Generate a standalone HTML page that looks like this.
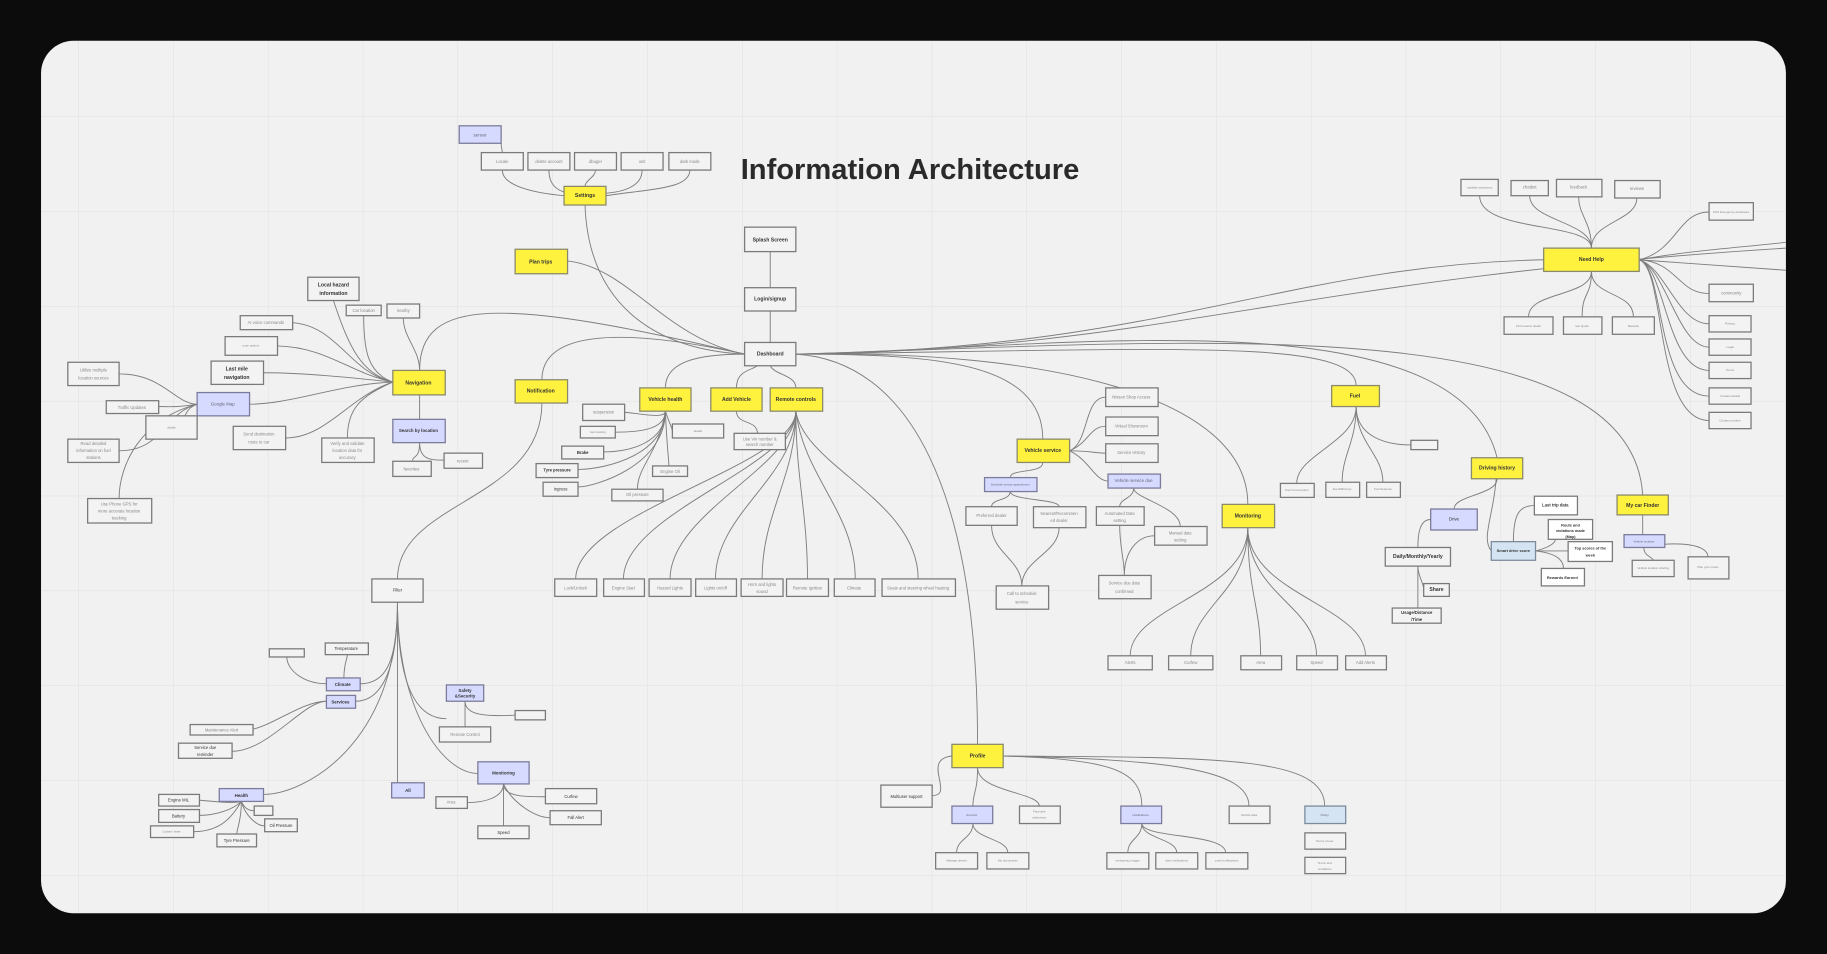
<!DOCTYPE html>
<html><head><meta charset="utf-8"><style>
html,body{margin:0;padding:0;background:#0c0c0c;width:1827px;height:954px;overflow:hidden}
svg{display:block}
text{font-family:"Liberation Sans",sans-serif;text-anchor:middle;dominant-baseline:middle}
.b rect{fill:#f3f3f3;stroke:#7a7a7a;stroke-width:1.1}
.y rect{fill:#fff23f;stroke:#8a8a6a;stroke-width:1.1}
.l rect{fill:#d6daff;stroke:#7b7b9b;stroke-width:1.1}
.c rect{fill:#d4e4f2;stroke:#7b8b9b;stroke-width:1.1}
.b text{font-size:3.6px;fill:#888}
.y text,.k text{font-size:4.4px;fill:#333;font-weight:bold}
.l text,.c text{font-size:3.8px;fill:#667}
.e path{fill:none;stroke:#7e7e7e;stroke-width:0.8}
</style></head><body>
<svg width="1827" height="954" viewBox="0 0 1568 819" xmlns="http://www.w3.org/2000/svg">
<defs><pattern id="g" x="-14" y="19" width="81.4" height="81.4" patternUnits="userSpaceOnUse"><path d="M81.4 0V81.4M0 81.4H81.4" fill="none" stroke="#dedede" stroke-width="0.8"/></pattern>
<clipPath id="cp"><rect x="35" y="35" width="1498" height="749" rx="28"/></clipPath></defs>
<rect x="0" y="0" width="1568" height="819" rx="40" fill="#0c0c0c"/>
<rect x="35" y="35" width="1498" height="749" rx="28" fill="#f1f1f1"/>
<g clip-path="url(#cp)">
<rect x="35" y="35" width="1498" height="749" fill="url(#g)"/>
<text x="781" y="147" style="font-size:25px;font-weight:bold;fill:#2a2a2a">Information Architecture</text>
<g class="e">
<path d="M639 304C560 300 505 260 502 176"/><path d="M487 224C540 230 570 290 639 304"/>
<path d="M360 318C360 255 430 255 639 304"/><path d="M465 326C465 285 530 280 639 304"/>
<path d="M571 333C571 310 600 304 639 304"/><path d="M632 333C632 318 645 318 650 314"/>
<path d="M683 333C683 322 665 322 661 314"/>
<path d="M661 215V247M661 267V294"/>
<path d="M683 304C1000 300 1100 228 1325 223"/><path d="M683 304C1000 300 1100 240 1533 213"/>
<path d="M683 304C900 300 1250 250 1285 393"/><path d="M683 304C1000 295 1400 260 1410 425"/>
<path d="M683 304C1000 300 1164 290 1164 331"/><path d="M683 304C900 300 1071 340 1071 433"/>
<path d="M683 304C800 304 895 310 895 377"/><path d="M683 304C780 310 839 420 839 639"/>
<path d="M1407 223C1450 215 1500 212 1533 208"/><path d="M1407 223C1450 226 1500 230 1533 232"/>
<path d="M430 123C430 128 431 128 431 131"/>
<path d="M431 146C431 160 460 166 484 168"/><path d="M471 146C471 160 480 165 490 166"/><path d="M511 146C511 152 502 155 502 160"/><path d="M551 146C551 160 535 165 518 166"/><path d="M592 146C592 162 560 162 520 168"/>
<path d="M337 328C310 320 300 300 286 258"/><path d="M337 328C315 320 312 300 312 271"/><path d="M337 328C300 320 290 280 251 277"/><path d="M337 328C300 320 280 298 238 297"/><path d="M337 328C300 324 260 320 226 320"/><path d="M337 328C290 330 250 347 214 347"/><path d="M337 328C300 340 280 376 245 376"/><path d="M337 328C310 340 298 350 298 376"/><path d="M346 273C346 290 360 300 360 318"/>
<path d="M360 339V360"/><path d="M360 380C360 395 354 390 354 396M360 380C360 395 370 395 381 395"/>
<path d="M169 347C150 347 140 321 102 321"/><path d="M169 347C150 350 145 349 136 349"/><path d="M169 347C160 350 155 360 160 367"/><path d="M169 347C140 355 140 387 102 387"/><path d="M169 347C120 360 102 400 102 428"/>
<path d="M465 346C465 430 341 430 341 497"/>
<path d="M571 353C571 360 550 355 536 354"/><path d="M571 353C571 370 545 371 528 371"/><path d="M571 353C575 365 577 368 577 370"/><path d="M571 353C571 380 540 388 518 388"/><path d="M571 353C571 390 520 403 496 403"/><path d="M571 353C571 400 510 418 496 418"/><path d="M571 353C572 380 574 395 574 400"/><path d="M571 353C565 390 547 400 547 420"/>
<path d="M632 353C632 365 650 360 650 372"/>
<path d="M683 353C683 400 494 440 494 497"/><path d="M683 353C683 400 535 440 535 497"/><path d="M683 353C683 400 575 440 575 497"/><path d="M683 353C683 410 614 440 614 497"/><path d="M683 353C683 410 654 440 654 497"/><path d="M683 353C683 410 693 440 693 497"/><path d="M683 353C690 410 734 440 734 497"/><path d="M683 353C690 400 788 430 788 497"/>
<path d="M918 387C935 380 930 341 949 341"/><path d="M918 387C935 380 935 366 949 366"/><path d="M918 387C935 387 940 389 949 389"/><path d="M918 387C935 395 940 413 951 413"/>
<path d="M895 397C895 407 867 402 867 410"/>
<path d="M867 422C867 430 851 428 851 435M867 422C867 430 909 428 909 435"/>
<path d="M851 451C851 475 877 480 877 503M909 453C909 475 877 480 877 503"/>
<path d="M973 419C973 428 961 428 961 435M973 419C973 428 1013 435 1013 452"/>
<path d="M961 451C961 470 965 480 965 494M991 460C975 460 965 475 965 494"/>
<path d="M1071 453C1071 510 970 520 970 563"/><path d="M1071 453C1071 510 1022 520 1022 563"/><path d="M1071 453C1071 510 1082 520 1082 563"/><path d="M1071 453C1071 510 1130 520 1130 563"/><path d="M1071 453C1071 510 1172 520 1172 563"/>
<path d="M1164 349C1164 380 1113 390 1113 415"/><path d="M1164 349C1164 380 1152 390 1152 414"/><path d="M1164 349C1164 380 1187 390 1187 414"/><path d="M1164 349C1164 375 1190 382 1211 382"/>
<path d="M1285 411C1285 425 1248 425 1248 437"/><path d="M1228 446C1218 446 1217 460 1217 470"/>
<path d="M1217 486C1217 495 1222 500 1222 506"/><path d="M1217 486V522"/>
<path d="M1285 393C1285 440 1270 460 1280 473"/>
<path d="M1299 465C1299 440 1305 434 1317 434"/><path d="M1318 473C1330 470 1335 466 1335 463"/><path d="M1318 473C1330 473 1340 473 1346 473"/><path d="M1318 473C1335 475 1342 480 1342 488"/>
<path d="M1410 442V459"/><path d="M1411 470C1411 478 1419 478 1419 481M1411 470C1430 465 1466 465 1466 478"/>
<path d="M1366 213C1366 190 1270 200 1270 168"/><path d="M1366 213C1366 190 1313 190 1313 168"/><path d="M1366 213C1366 190 1355 185 1355 169"/><path d="M1366 213C1366 190 1405 190 1405 170"/>
<path d="M1407 223C1440 215 1440 182 1467 182"/><path d="M1407 223C1440 225 1440 252 1467 252"/><path d="M1407 223C1430 230 1440 278 1467 278"/><path d="M1407 223C1430 230 1440 298 1467 298"/><path d="M1407 223C1430 230 1430 318 1467 318"/><path d="M1407 223C1430 230 1420 340 1467 340"/><path d="M1407 223C1430 230 1420 361 1467 361"/>
<path d="M1366 233C1366 255 1312 250 1312 272"/><path d="M1366 233C1366 255 1358 250 1358 272"/><path d="M1366 233C1366 255 1402 250 1402 272"/>
<path d="M341 517C341 570 330 587 309 587"/><path d="M341 517C341 580 325 602 305 602"/><path d="M341 517C341 570 350 617 383 617"/><path d="M341 517V672"/><path d="M341 517C341 610 380 664 410 664"/><path d="M341 517C341 640 260 682 226 682"/>
<path d="M280 587C260 587 246 575 246 564"/><path d="M295 582C295 570 298 565 298 562"/>
<path d="M280 602C260 602 235 622 217 626"/><path d="M280 602C260 602 230 645 199 645"/>
<path d="M399 602V624"/><path d="M399 602C399 615 420 615 442 614"/>
<path d="M432 673C432 685 415 689 401 689"/><path d="M432 673C432 684 450 684 468 684"/><path d="M432 673V709"/><path d="M432 673C440 690 460 702 472 702"/>
<path d="M207 688C200 690 185 688 171 687"/><path d="M207 688C200 695 185 700 171 700"/><path d="M207 688C200 700 190 714 166 714"/><path d="M207 688C210 695 215 696 218 696"/><path d="M207 688C210 700 220 709 227 709"/><path d="M207 688C207 705 203 712 203 716"/>
<path d="M817 649C790 652 820 683 800 683"/>
<path d="M839 659C839 680 835 680 835 692"/><path d="M839 659C839 680 892 680 892 692"/><path d="M861 649C950 652 980 660 980 692"/><path d="M861 649C1000 652 1072 660 1072 692"/><path d="M861 649C1050 650 1137 650 1137 692"/>
<path d="M835 707C835 720 821 720 821 732"/><path d="M835 707C835 720 865 720 865 732"/>
<path d="M980 707C980 720 968 720 968 732"/><path d="M980 707C980 720 1010 720 1010 732"/><path d="M980 707C980 720 1052 715 1052 732"/>
</g>
<g class="l"><rect x="394" y="108" width="36" height="15"/><text x="412" y="116">sensor</text></g>
<g class="b"><rect x="413" y="131" width="36" height="15"/><text x="431" y="139">Locale</text>
<rect x="453" y="131" width="36" height="15"/><text x="471" y="139">delete account</text>
<rect x="493" y="131" width="36" height="15"/><text x="511" y="139">dbuger</text>
<rect x="533" y="131" width="36" height="15"/><text x="551" y="139">unit</text>
<rect x="574" y="131" width="36" height="15"/><text x="592" y="139">dark mode</text></g>
<g class="y"><rect x="484" y="160" width="36" height="16"/><text x="502" y="168">Settings</text>
<rect x="442" y="214" width="45" height="21"/><text x="464" y="225">Plan trips</text></g>
<g class="b k"><rect x="639" y="195" width="44" height="21"/><text x="661" y="206">Splash Screen</text>
<rect x="639" y="247" width="44" height="20"/><text x="661" y="257">Login/signup</text>
<rect x="639" y="294" width="44" height="20"/><text x="661" y="304">Dashboard</text>
<rect x="264" y="238" width="44" height="20"/><text x="286" y="245">Local hazard</text><text x="286" y="252">information</text>
<rect x="181" y="310" width="45" height="20"/><text x="203" y="317">Last mile</text><text x="203" y="324">navigation</text></g>
<g class="b"><rect x="297" y="262" width="30" height="9"/><text x="312" y="267">Car location</text>
<rect x="332" y="261" width="28" height="12"/><text x="346" y="267">nearby</text>
<rect x="206" y="271" width="45" height="12"/><text x="228" y="277">AI voice commands</text>
<rect x="193" y="289" width="45" height="16"/><text x="215" y="297" style="font-size:2.5px">route options</text>
<rect x="58" y="311" width="44" height="20"/><text x="80" y="318">Utilize multiple</text><text x="80" y="325">location sources</text>
<rect x="91" y="344" width="45" height="11"/><text x="113" y="350">Traffic Updates</text>
<rect x="125" y="357" width="44" height="20"/><text x="147" y="367" style="font-size:2.5px">details</text>
<rect x="58" y="377" width="44" height="20"/><text x="80" y="381">Read detailed</text><text x="80" y="387">information on fuel</text><text x="80" y="393">stations</text>
<rect x="75" y="428" width="55" height="21"/><text x="102" y="433">Use Phone GPS for</text><text x="102" y="439">more accurate location</text><text x="102" y="445">tracking</text>
<rect x="200" y="366" width="45" height="20"/><text x="222" y="373">Send destination</text><text x="222" y="380">route to car</text>
<rect x="276" y="376" width="45" height="21"/><text x="298" y="381">Verify and validate</text><text x="298" y="387">location data for</text><text x="298" y="393">accuracy</text>
<rect x="337" y="396" width="33" height="13"/><text x="353" y="403">favorites</text>
<rect x="381" y="389" width="33" height="13"/><text x="397" y="396">recent</text></g>
<g class="y"><rect x="337" y="318" width="45" height="21"/><text x="359" y="329">Navigation</text></g>
<g class="l"><rect x="169" y="337" width="45" height="20"/><text x="191" y="347">Google Map</text>
<rect x="337" y="360" width="45" height="20"/><text x="359" y="370" style="font-weight:bold;fill:#333">Search by location</text></g>
<g class="y"><rect x="442" y="326" width="45" height="20"/><text x="464" y="336">Notification</text>
<rect x="549" y="333" width="44" height="20"/><text x="571" y="343">Vehicle health</text>
<rect x="610" y="333" width="44" height="20"/><text x="632" y="343">Add Vehicle</text>
<rect x="661" y="333" width="45" height="20"/><text x="683" y="343">Remote controls</text></g>
<g class="b"><rect x="500" y="347" width="36" height="14"/><text x="518" y="354">suspension</text>
<rect x="498" y="366" width="30" height="10"/><text x="513" y="371" style="font-size:2.5px">fuel tracking</text>
<rect x="577" y="364" width="44" height="12"/><text x="599" y="370" style="font-size:2.5px">details</text>
<rect x="460" y="398" width="36" height="12"/><text x="478" y="404" style="fill:#333;font-weight:bold">Tyre pressure</text>
<rect x="482" y="383" width="36" height="11"/><text x="500" y="389" style="fill:#333;font-weight:bold">Brake</text>
<rect x="466" y="414" width="30" height="12"/><text x="481" y="420" style="fill:#333">Ingress</text>
<rect x="560" y="400" width="30" height="9"/><text x="575" y="405">Engine Oil</text>
<rect x="525" y="420" width="44" height="10"/><text x="547" y="425">Oil pressure</text>
<rect x="630" y="372" width="44" height="14"/><text x="652" y="377">Use Vin number &amp;</text><text x="652" y="382">search number</text>
<rect x="476" y="497" width="36" height="15"/><text x="494" y="505">Lock/Unlock</text>
<rect x="518" y="497" width="35" height="15"/><text x="535" y="505">Engine Start</text>
<rect x="557" y="497" width="36" height="15"/><text x="575" y="505">Hazard Lights</text>
<rect x="597" y="497" width="35" height="15"/><text x="614" y="505">Lights on/off</text>
<rect x="636" y="497" width="36" height="15"/><text x="654" y="502">Horn and lights</text><text x="654" y="508">sound</text>
<rect x="675" y="497" width="36" height="15"/><text x="693" y="505">Remote Ignition</text>
<rect x="716" y="497" width="35" height="15"/><text x="733" y="505">Climate</text>
<rect x="757" y="497" width="63" height="15"/><text x="788" y="505">Seats and steering wheel heating</text>
<rect x="319" y="497" width="44" height="20"/><text x="341" y="507" style="fill:#333">Filter</text></g>
<g class="y"><rect x="873" y="377" width="45" height="20"/><text x="895" y="387">Vehicle service</text></g>
<g class="b"><rect x="949" y="333" width="45" height="16"/><text x="971" y="341">Nissan Shop Access</text>
<rect x="949" y="358" width="45" height="16"/><text x="971" y="366">Virtual Showroom</text>
<rect x="949" y="381" width="45" height="16"/><text x="971" y="389">Service History</text>
<rect x="829" y="435" width="44" height="16"/><text x="851" y="443">Preferred dealer</text>
<rect x="887" y="435" width="45" height="18"/><text x="909" y="441">Nearest/Recommen</text><text x="909" y="447">ed dealer</text>
<rect x="941" y="435" width="41" height="16"/><text x="961" y="441">Automated Date</text><text x="961" y="447">setting</text>
<rect x="991" y="452" width="45" height="16"/><text x="1013" y="458">Manual date</text><text x="1013" y="464">setting</text>
<rect x="855" y="503" width="45" height="20"/><text x="877" y="510">Call to schedule</text><text x="877" y="517">service</text>
<rect x="943" y="494" width="45" height="20"/><text x="965" y="501">Service due date</text><text x="965" y="508">confirmed</text></g>
<g class="l"><rect x="951" y="407" width="45" height="12"/><text x="973" y="413">Vehicle service due</text>
<rect x="845" y="410" width="45" height="12"/><text x="867" y="416" style="font-size:2.5px">Schedule service appointment</text></g>
<g class="y"><rect x="1049" y="433" width="45" height="20"/><text x="1071" y="443">Monitoring</text>
<rect x="1143" y="331" width="41" height="18"/><text x="1163" y="340">Fuel</text>
<rect x="1263" y="393" width="44" height="18"/><text x="1285" y="402">Driving history</text>
<rect x="1388" y="425" width="44" height="17"/><text x="1410" y="434">My car Finder</text>
<rect x="1325" y="213" width="82" height="20"/><text x="1366" y="223">Need Help</text>
<rect x="817" y="639" width="44" height="20"/><text x="839" y="649">Profile</text></g>
<g class="b"><rect x="951" y="563" width="38" height="12"/><text x="970" y="569">Alerts</text>
<rect x="1003" y="563" width="38" height="12"/><text x="1022" y="569">Curfew</text>
<rect x="1065" y="563" width="35" height="12"/><text x="1082" y="569">Area</text>
<rect x="1113" y="563" width="35" height="12"/><text x="1130" y="569">Speed</text>
<rect x="1155" y="563" width="35" height="12"/><text x="1172" y="569">Add Alerts</text>
<rect x="1211" y="378" width="23" height="8"/>
<rect x="1099" y="415" width="29" height="12"/><text x="1113" y="421" style="font-size:2.5px">Fuel Consumption</text>
<rect x="1138" y="414" width="29" height="13"/><text x="1152" y="420" style="font-size:2.5px">Fuel Efficiency</text>
<rect x="1173" y="414" width="29" height="13"/><text x="1187" y="420" style="font-size:2.5px">Fuel Expense</text></g>
<g class="l"><rect x="1228" y="437" width="40" height="18"/><text x="1248" y="446" style="fill:#333">Drive</text>
<rect x="1394" y="459" width="35" height="11"/><text x="1411" y="465" style="font-size:2.6px">Vehicle location</text></g>
<g class="c"><rect x="1280" y="465" width="38" height="16"/><text x="1299" y="473" style="fill:#333;font-weight:bold;font-size:3.4px">Smart drive score</text></g>
<g class="b k"><rect x="1189" y="470" width="56" height="16"/><text x="1217" y="478">Daily/Monthly/Yearly</text>
<rect x="1222" y="501" width="22" height="11"/><text x="1233" y="506">Share</text>
<rect x="1195" y="522" width="42" height="13"/><text x="1216" y="526" style="font-size:3.6px">Usage/Distance</text><text x="1216" y="532" style="font-size:3.6px">/Time</text>
<rect x="1317" y="426" width="37" height="16" style="fill:#fff"/><text x="1335" y="434" style="font-size:3.6px">Last trip data</text>
<rect x="1329" y="446" width="38" height="17" style="fill:#fff"/><text x="1348" y="451" style="font-size:3.3px">Route and</text><text x="1348" y="456" style="font-size:3.3px">violations made</text><text x="1348" y="461" style="font-size:3.3px">(Map)</text>
<rect x="1346" y="465" width="38" height="17" style="fill:#fff"/><text x="1365" y="471" style="font-size:3.3px">Top scores of the</text><text x="1365" y="477" style="font-size:3.3px">week</text>
<rect x="1323" y="488" width="37" height="15" style="fill:#fff"/><text x="1341" y="496" style="font-size:3.4px">Rewards Earned</text></g>
<g class="b"><rect x="1401" y="481" width="36" height="14"/><text x="1419" y="488" style="font-size:2.6px">Vehicle location sharing</text>
<rect x="1449" y="478" width="35" height="19"/><text x="1466" y="487" style="font-size:2.5px">Plan your routes</text>
<rect x="1254" y="154" width="32" height="14"/><text x="1270" y="161" style="font-size:2.5px">roadside assistance</text>
<rect x="1297" y="155" width="32" height="13"/><text x="1313" y="161">chatbot</text>
<rect x="1336" y="154" width="39" height="15"/><text x="1355" y="161">feedback</text>
<rect x="1386" y="155" width="39" height="15"/><text x="1405" y="162">reviews</text>
<rect x="1467" y="174" width="38" height="15"/><text x="1486" y="182" style="font-size:2.5px">SOS Emergency Assistance</text>
<rect x="1467" y="244" width="38" height="15"/><text x="1486" y="252">community</text>
<rect x="1467" y="271" width="36" height="14"/><text x="1485" y="278" style="font-size:2.6px">Privacy</text>
<rect x="1467" y="291" width="36" height="14"/><text x="1485" y="298" style="font-size:2.6px">Legal</text>
<rect x="1467" y="311" width="36" height="14"/><text x="1485" y="318" style="font-size:2.6px">Terms</text>
<rect x="1467" y="333" width="36" height="14"/><text x="1485" y="340" style="font-size:2.6px">Contact details</text>
<rect x="1467" y="354" width="36" height="14"/><text x="1485" y="361" style="font-size:2.6px">Contact number</text>
<rect x="1291" y="272" width="42" height="15"/><text x="1312" y="280" style="font-size:2.5px">Find nearest dealer</text>
<rect x="1342" y="272" width="33" height="15"/><text x="1358" y="280" style="font-size:2.5px">Get Quote</text>
<rect x="1384" y="272" width="36" height="15"/><text x="1402" y="280" style="font-size:2.5px">Manuals</text>
<rect x="279" y="552" width="37" height="10"/><text x="297" y="557" style="fill:#333">Temperature</text>
<rect x="231" y="557" width="30" height="7"/>
<rect x="163" y="622" width="54" height="9"/><text x="190" y="627">Maintenance Alert</text>
<rect x="153" y="638" width="46" height="13"/><text x="176" y="642" style="fill:#333">Service due</text><text x="176" y="648" style="fill:#333">reminder</text>
<rect x="442" y="610" width="26" height="8"/>
<rect x="377" y="624" width="44" height="13"/><text x="399" y="631">Remote Control</text>
<rect x="374" y="684" width="27" height="10"/><text x="387" y="689">Area</text>
<rect x="468" y="677" width="44" height="13"/><text x="490" y="684" style="fill:#333">Curfew</text>
<rect x="410" y="709" width="44" height="11"/><text x="432" y="715" style="fill:#333">Speed</text>
<rect x="472" y="696" width="44" height="12"/><text x="494" y="702" style="fill:#333">Fall Alert</text>
<rect x="136" y="682" width="35" height="10"/><text x="153" y="687" style="fill:#333">Engine MIL</text>
<rect x="136" y="695" width="35" height="11"/><text x="153" y="701" style="fill:#333">Battery</text>
<rect x="129" y="709" width="37" height="10"/><text x="147" y="714" style="font-size:2.3px">Coolant / brake</text>
<rect x="218" y="692" width="16" height="8"/>
<rect x="227" y="703" width="28" height="11"/><text x="241" y="709" style="fill:#333">Oil Pressure</text>
<rect x="186" y="716" width="34" height="11"/><text x="203" y="722" style="fill:#333">Tyre Pressure</text>
<rect x="756" y="674" width="44" height="19"/><text x="778" y="684" style="fill:#333">Multiuser support</text>
<rect x="875" y="692" width="35" height="15"/><text x="892" y="697" style="font-size:2.6px">Favourite</text><text x="892" y="702" style="font-size:2.6px">addresses</text>
<rect x="1055" y="692" width="35" height="15"/><text x="1072" y="700" style="font-size:2.6px">Vehicle data</text>
<rect x="1120" y="715" width="35" height="14"/><text x="1137" y="722" style="font-size:2.6px">Terms of use</text>
<rect x="1120" y="736" width="35" height="14"/><text x="1137" y="741" style="font-size:2.6px">Terms and</text><text x="1137" y="746" style="font-size:2.6px">conditions</text>
<rect x="803" y="732" width="36" height="14"/><text x="821" y="739" style="font-size:2.6px">Manage drivers</text>
<rect x="847" y="732" width="36" height="14"/><text x="865" y="739" style="font-size:2.6px">My documents</text>
<rect x="950" y="732" width="36" height="14"/><text x="968" y="739" style="font-size:2.6px">emergency trigger</text>
<rect x="992" y="732" width="36" height="14"/><text x="1010" y="739" style="font-size:2.6px">alert notifications</text>
<rect x="1035" y="732" width="36" height="14"/><text x="1053" y="739" style="font-size:2.6px">push notifications</text></g>
<g class="l"><rect x="280" y="582" width="29" height="11"/><text x="294" y="588" style="fill:#333;font-weight:bold">Climate</text>
<rect x="280" y="597" width="25" height="11"/><text x="292" y="603" style="fill:#333;font-weight:bold">Services</text>
<rect x="383" y="588" width="32" height="14"/><text x="399" y="593" style="fill:#333;font-weight:bold">Safety</text><text x="399" y="598" style="fill:#333;font-weight:bold">&amp;Security</text>
<rect x="336" y="672" width="28" height="13"/><text x="350" y="679" style="fill:#333;font-weight:bold">All</text>
<rect x="410" y="654" width="44" height="19"/><text x="432" y="664" style="fill:#333;font-weight:bold">Monitoring</text>
<rect x="188" y="677" width="38" height="11"/><text x="207" y="683" style="fill:#333;font-weight:bold">Health</text>
<rect x="817" y="692" width="35" height="15"/><text x="834" y="700" style="font-size:2.6px">Account</text>
<rect x="962" y="692" width="35" height="15"/><text x="979" y="700" style="font-size:2.6px">Notifications</text></g>
<g class="c"><rect x="1120" y="692" width="35" height="15"/><text x="1137" y="700" style="font-size:2.6px">Policy</text></g>
</g>
</svg>
</body></html>
